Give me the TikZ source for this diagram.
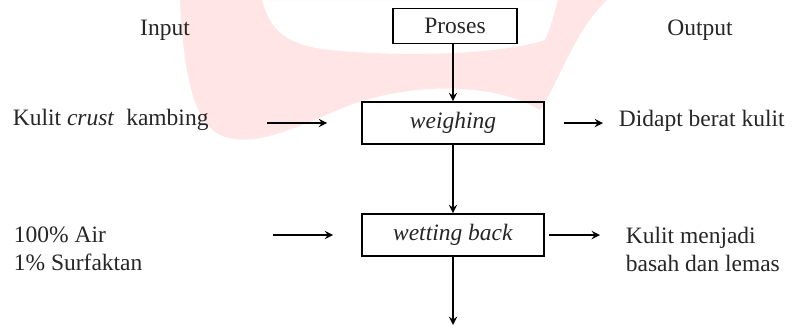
\documentclass[tikz,border=0pt]{standalone}
\usepackage{fontspec}
\setmainfont{Liberation Serif}
\begin{document}
\begin{tikzpicture}[>=stealth, x=.5pt, y=-.5pt, line width=.85pt,
 every node/.style={font=\fontsize{11.75}{14}\selectfont, text=black!85},
 proc/.style={draw, minimum width=91pt, minimum height=21pt, inner sep=0pt},
 txt/.style={anchor=west, inner sep=0pt, align=left}]
 \useasboundingbox (0,0) rectangle (793,327);
 % faint logo behind
 \fill[red!10, even odd rule] (180,0) .. controls (183,60) and (190,120) .. (220,135)
   .. controls (255,150) and (300,125) .. (350,105)
   .. controls (420,80) and (500,85) .. (540,110)
   .. controls (560,80) and (575,30) .. (607,0) -- cycle
   (262,0) .. controls (270,30) and (285,45) .. (330,50)
   .. controls (400,57) and (500,55) .. (545,40)
   .. controls (552,25) and (555,10) .. (558,0) -- cycle;
 \node (input) at (165,30) {Input};
 \node[draw, minimum width=62pt, minimum height=17.5pt, inner sep=0pt] (proses) at (455,26) {Proses};
 \node (output) at (700,30) {Output};
 \node[proc] (weigh) at (453,123) {\textit{weighing}};
 \node[proc] (wet) at (453,235) {\textit{wetting back}};
 \node[txt] (kulit) at (12,120) {Kulit \textit{crust}~ kambing};
 \node[txt] (berat) at (618,121) {Didapt berat kulit};
 \node[txt] (bahan) at (13,249) {100\% Air\\1\% Surfaktan};
 \node[txt] (hasil) at (625,249) {Kulit menjadi\\basah dan lemas};
 \coordinate (in1) at (267,123);
 \coordinate (in2) at (273,235);
 \coordinate (akhir) at (453,325);
 % arrows
 \draw[->] (weigh.north |- proses.south) -- (weigh.north);
 \draw[->] (weigh) -- (wet);
 \draw[->] (wet) -- (akhir);
 \draw[->, shorten >=17pt] (in1) -- (weigh.west);
 \draw[->, shorten >=14pt] (in2) -- (wet.west);
 \draw[->, shorten <=9.5pt, shorten >=7.5pt] (weigh.east) -- (weigh.east -| berat.west);
 \draw[->, shorten <=2pt, shorten >=12.5pt] (wet.east) -- (wet.east -| hasil.west);
\end{tikzpicture}
\end{document}
